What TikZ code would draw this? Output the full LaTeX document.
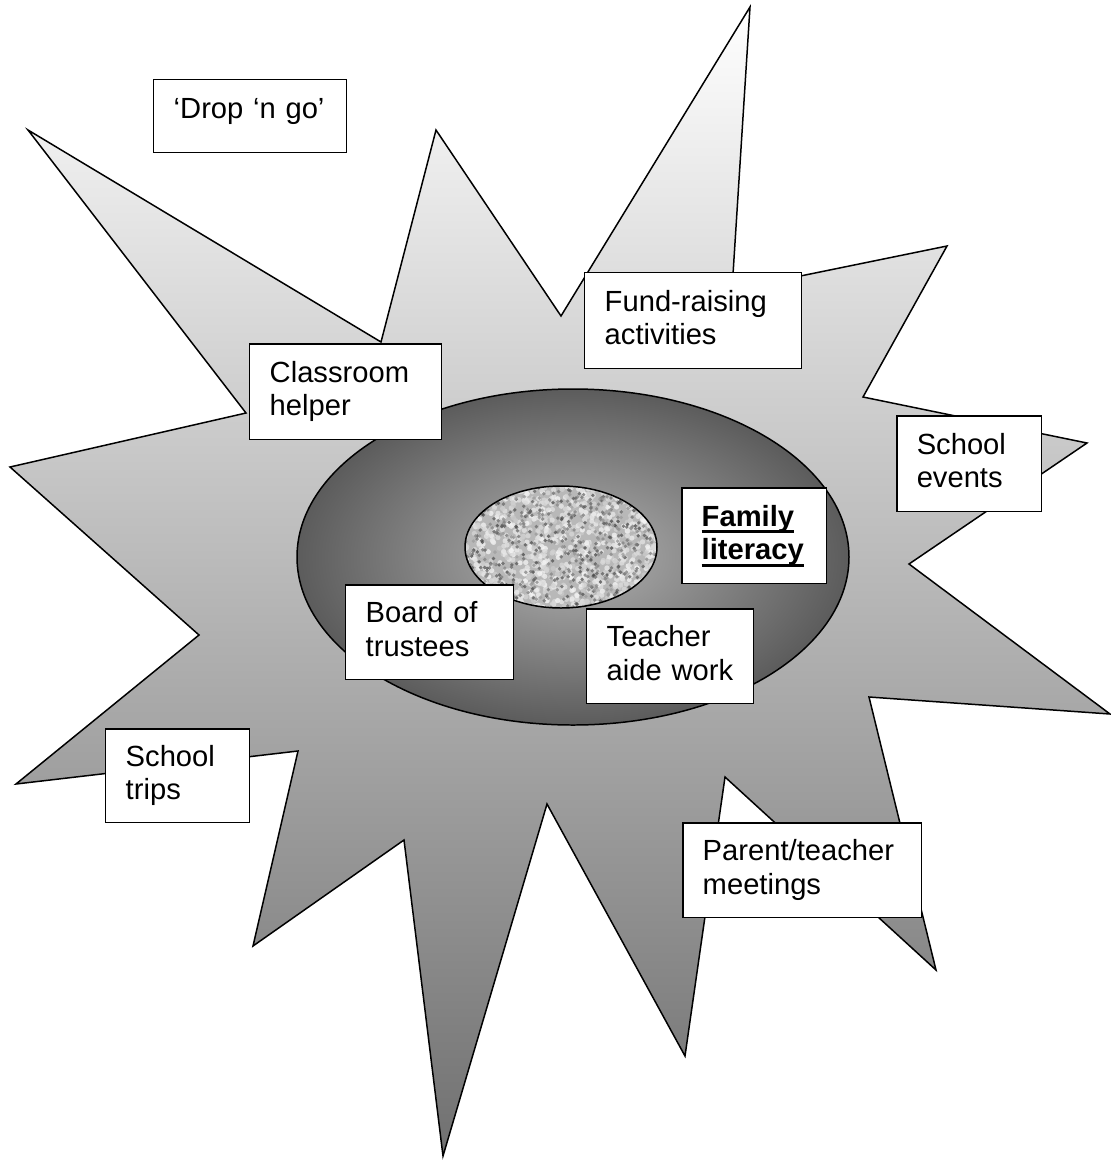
\documentclass[tikz,border=0pt]{standalone}
\usepackage{fontspec}
\setmainfont{Liberation Sans}

\newcommand\heavyline[1]{\setbox0=\hbox{#1}\rlap{\rule[-0.24em]{\wd0}{0.1em}}\box0}

\begin{document}
\begin{tikzpicture}[
        x=0.02cm, y=-0.02cm,
        burst/.style= {
            draw, line width=0.85pt, top color=white, bottom color=black!56
        },
        ring/.style = {
            draw, line width=0.85pt, inner color=black!30, outer color=black!64
        },
        role/.style = {
            draw, fill=white, line width=0.85pt, anchor=north west,
            align=left, inner xsep=0.4cm, inner ysep=0pt,
            text height=0.42cm, text depth=0.8cm,
            font=\fontsize{16.6}{19.2}\selectfont
        },
        ]
        \path[use as bounding box, fill=white] (0,0) rectangle (1111,1160);

        \draw[burst] (28,130) -- (381,342) -- (436,130) -- (561,316)
            -- (750,7) -- (732,290) -- (947,246) -- (863,397) -- (1087,443)
            -- (909,564) -- (1110,714) -- (869,697) -- (936,970) -- (725,777)
            -- (685,1056) -- (547,804) -- (443,1156) -- (404,840) -- (253,946)
            -- (298,751) -- (16,784) -- (199,635) -- (10,467) -- (246,413)
            -- cycle;

        \draw[ring] (573,557) ellipse [x radius=276, y radius=168];

        \begin{scope}
            \clip (561,547) ellipse [x radius=96, y radius=61];
            \fill[black!28] (465,486) rectangle (657,608);
            \pgfmathsetseed{42}
            \foreach \k in {1,...,1000}{
                \pgfmathsetmacro\gx{465+192*rnd}
                \pgfmathsetmacro\gy{486+122*rnd}
                \pgfmathtruncatemacro\gt{4+18*rnd}
                \fill[black!\gt, opacity=0.8] (\gx,\gy) circle [radius=2.6];
            }
            \foreach \k in {1,...,650}{
                \pgfmathsetmacro\gx{465+192*rnd}
                \pgfmathsetmacro\gy{486+122*rnd}
                \pgfmathtruncatemacro\gt{38+35*rnd}
                \fill[black!\gt, opacity=0.75] (\gx,\gy) circle [radius=1.9];
            }
        \end{scope}
        \draw[line width=0.85pt] (561,547) ellipse [x radius=96, y radius=61];

        \node[role, text width=3.06cm, minimum height=1.46cm, text depth=0.32cm]
            (drop) at (153,79) {‘Drop ‘n go’};
        \node[role, text width=3.04cm, minimum height=1.92cm]
            (classroom) at (249,343) {Classroom\\helper};
        \node[role, text width=3.54cm, minimum height=1.92cm]
            (fundraising) at (584,272) {Fund-raising\\activities};
        \node[role, text width=2.1cm, minimum height=1.92cm]
            (events) at (896,415) {School\\events};
        \node[role, text width=2.1cm, minimum height=1.92cm]
            (family) at (681,487) {\textbf{\heavyline{Family}}\\\textbf{\heavyline{literacy}}};
        \node[role, text width=2.56cm, minimum height=1.9cm]
            (board) at (345,584) {Board of\\trustees};
        \node[role, text width=2.54cm, minimum height=1.9cm]
            (aide) at (586,608) {Teacher\\aide work};
        \node[role, text width=2.08cm, minimum height=1.88cm]
            (trips) at (105,728) {School\\trips};
        \node[role, text width=3.98cm, minimum height=1.9cm]
            (meetings) at (682,822) {Parent/teacher\\meetings};
\end{tikzpicture}
\end{document}
